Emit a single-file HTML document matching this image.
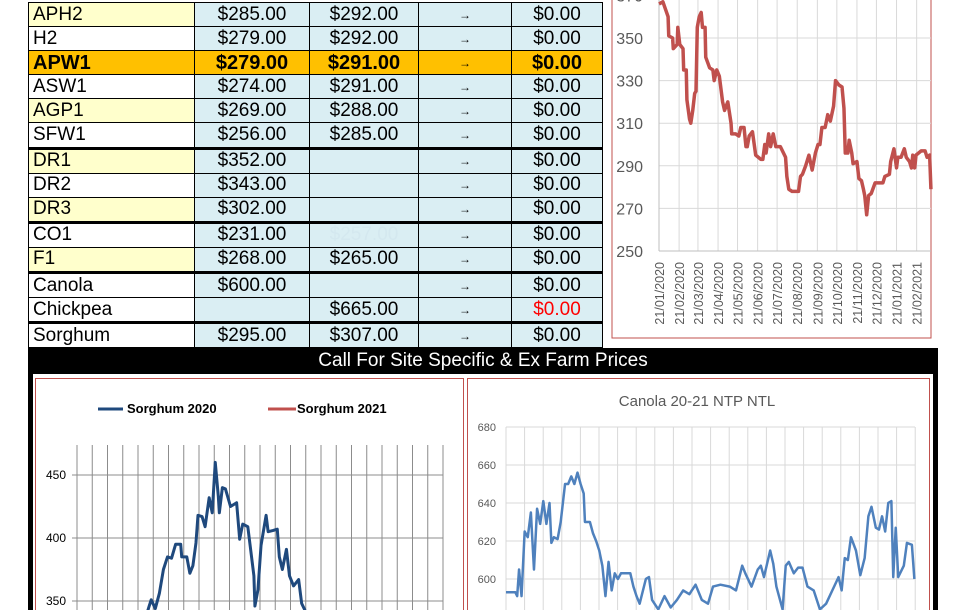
<!DOCTYPE html>
<html><head><meta charset="utf-8"><style>
body{margin:0;width:974px;height:610px;overflow:hidden;background:#fff;position:relative;font-family:"Liberation Sans",Arial,sans-serif}
#tbl{position:absolute;left:28px;top:2px;border-collapse:collapse;table-layout:fixed}
#tbl td{border:1.5px solid #000;height:23.1px;padding:0;font-size:19px;line-height:20px;background:#DAEEF3;text-align:center;white-space:nowrap;overflow:hidden}
#tbl td.n{text-align:left;padding-left:4px;background:#fff}
#tbl td.y{background:#FFFFCC}
#tbl td.a{font-size:12px}
#tbl tr.o td{background:#FFC000;font-weight:bold;font-size:20px}
#tbl tr.t td{border-bottom:3px solid #000}
.banner{position:absolute;left:28px;top:348px;width:910px;height:26px;background:#000;color:#fff;font-size:19px;text-align:center;line-height:26px}
svg{position:absolute;left:0;top:0}
</style></head><body>
<table id="tbl">
<colgroup><col style="width:166px"><col style="width:115px"><col style="width:109px"><col style="width:93px"><col style="width:91px"></colgroup>
<tr><td class="n y">APH2</td><td>$285.00</td><td>$292.00</td><td class="a">→</td><td>$0.00</td></tr>
<tr><td class="n">H2</td><td>$279.00</td><td>$292.00</td><td class="a">→</td><td>$0.00</td></tr>
<tr class="o"><td class="n" style="background:#FFC000">APW1</td><td>$279.00</td><td>$291.00</td><td class="a" style="font-size:12px;font-weight:normal">→</td><td>$0.00</td></tr>
<tr><td class="n">ASW1</td><td>$274.00</td><td>$291.00</td><td class="a">→</td><td>$0.00</td></tr>
<tr><td class="n y">AGP1</td><td>$269.00</td><td>$288.00</td><td class="a">→</td><td>$0.00</td></tr>
<tr class="t"><td class="n">SFW1</td><td>$256.00</td><td>$285.00</td><td class="a">→</td><td>$0.00</td></tr>
<tr><td class="n y">DR1</td><td>$352.00</td><td></td><td class="a">→</td><td>$0.00</td></tr>
<tr><td class="n">DR2</td><td>$343.00</td><td></td><td class="a">→</td><td>$0.00</td></tr>
<tr class="t"><td class="n y">DR3</td><td>$302.00</td><td></td><td class="a">→</td><td>$0.00</td></tr>
<tr><td class="n">CO1</td><td>$231.00</td><td style="color:#d4e8ef">$257.00</td><td class="a">→</td><td>$0.00</td></tr>
<tr class="t"><td class="n y">F1</td><td>$268.00</td><td>$265.00</td><td class="a">→</td><td>$0.00</td></tr>
<tr><td class="n">Canola</td><td>$600.00</td><td></td><td class="a">→</td><td>$0.00</td></tr>
<tr class="t"><td class="n">Chickpea</td><td></td><td>$665.00</td><td class="a">→</td><td style="color:#f00">$0.00</td></tr>
<tr><td class="n">Sorghum</td><td>$295.00</td><td>$307.00</td><td class="a">→</td><td>$0.00</td></tr>
</table>
<div class="banner">Call For Site Specific &amp; Ex Farm Prices</div>
<div style="position:absolute;left:28px;top:370px;width:5px;height:240px;background:#000"></div>
<div style="position:absolute;left:933px;top:370px;width:5px;height:240px;background:#000"></div>
<svg id="s" width="974" height="610"></svg>
<script>
// APW1 chart data
const apwDays=[0,6,14,15,21,22,28,29,32,37,38,42,43,47,49,52,55,57,59,62,65,67,71,72,78,83,85,89,93,98,101,106,111,112,118,123,126,131,134,136,139,144,149,157,160,163,165,169,172,176,180,187,195,197,200,205,215,218,221,226,231,236,241,245,248,251,256,260,264,269,272,277,282,285,287,291,293,297,299,305,308,312,315,317,320,323,327,333,345,348,355,357,362,366,368,373,378,381,386,389,391,394,396,400,404,410,413,417,419];
const apwVals=[366,367,360,351,350,345,347,355,347,345,335,335,321,312,310,316,324,325,355,360,362,355,355,341,336,335,330,335,332,320,316,320,310,305,305,304,308,308,299,299,304,306,295,293,293,300,296,305,299,305,299,299,294,285,279,278,278,285,286,290,295,288,296,300,300,308,308,314,311,318,330,328,327,317,296,296,302,296,291,292,284,283,279,276,267,276,277,282,282,285,286,292,298,289,294,294,298,294,292,289,295,289,295,296,297,297,294,295,279];
const apwTicks=["21/01/2020","21/02/2020","21/03/2020","21/04/2020","21/05/2020","21/06/2020","21/07/2020","21/08/2020","21/09/2020","21/10/2020","21/11/2020","21/12/2020","21/01/2021","21/02/2021"];
const apwTickDays=[0,31,60,91,121,152,182,213,244,274,305,335,366,397];
const apwY=[250,270,290,310,330,350,370];
// Sorghum chart data
const sorDays=[65,71,73,77,81,85,89,93,97,102,103,108,111,114,117,119,123,126,130,133,136,139,140,143,146,151,157,160,163,168,170,174,175,178,181,186,188,193,197,199,202,206,209,213,218,221,224,230];
const sor2020=[330,346,351,344,356,375,385,384,395,395,385,385,372,378,396,418,417,409,432,420,460,433,420,440,439,425,428,399,411,409,396,370,346,359,394,418,405,406,407,385,375,391,370,362,367,348,343,325];
const sorY=[350,400,450];
// Canola chart data
const canDays=[0,7.5,9,10.5,12.5,15,17.5,20,22.5,25,27.5,30,32.5,35,36.5,38.5,41.5,44,47.5,50,52.5,55,57.5,60,62.5,63.5,67.5,70,72.5,75,77.5,80,82.5,85,87.5,90,92.5,95,100,102.5,105,107.5,112.5,115,117.5,122.5,127.5,132.5,137.5,142.5,147.5,152.5,157.5,162.5,166.5,172.5,180,185,190,192.5,197.5,202.5,205,207.5,212.5,215,217.5,222.5,225,227.5,231.5,235,238.5,242.5,247.5,252.5,257.5,262.5,267.5,270,272.5,275,277.5,281.5,285,288.5,291.5,294,297.5,300,302.5,305,307.5,310,311.5,313.5,315.5,320,322.5,326.5,328.5];
const canVals=[593,593,591,605,591,625,622,635,605,637,629,641,629,640,619,622,621,630,650,650,654,650,656,650,645,630,630,624,620,615,607,591,609,594,603,600,603,603,603,596,591,587,600,601,589,584,591,585,589,594,592,597,589,587,596,597,596,594,607,603,596,605,607,601,615,608,596,584,607,609,603,606,606,596,594,584,587,594,601,594,611,610,622,615,602,611,633,638,627,626,633,625,640,641,601,627,601,607,619,618,600];
const canY=[600,620,640,660,680];

const NS="http://www.w3.org/2000/svg";const S=document.getElementById('s');
function mk(t,a){const e=document.createElementNS(NS,t);for(const k in a)e.setAttribute(k,a[k]);S.appendChild(e);return e;}

// ---- APW1 chart ----
const ax=d=>659+d*0.649, ay=v=>251-(v-250)*2.13;
let e=mk('rect',{x:612,y:-5,width:319,height:343,fill:'#fff',stroke:'#C0504D','stroke-width':1});


apwY.forEach(v=>{
 e=mk('line',{x1:659,x2:931,y1:ay(v),y2:ay(v),stroke:'#d9d9d9'});
 
 
 e=mk('text',{x:643,y:ay(v)+6,'text-anchor':'end','font-size':16,fill:'#595959','font-family':'Liberation Sans'});e.textContent=v;
 
 
});
apwTickDays.forEach((d,i)=>{
 e=mk('line',{x1:ax(d),x2:ax(d),y1:0,y2:251,stroke:'#d9d9d9'});
 
 
 e=mk('text',{x:0,y:0,transform:`translate(${ax(d)+5},262) rotate(-90)`,'text-anchor':'end','font-size':12.5,fill:'#595959','font-family':'Liberation Sans'});e.textContent=apwTicks[i];
 
 
});
e=mk('line',{x1:659,x2:931,y1:251,y2:251,stroke:'#bfbfbf'});


e=mk('line',{x1:659,x2:659,y1:0,y2:251,stroke:'#bfbfbf'});


e=mk('polyline',{points:apwDays.map((d,i)=>ax(d)+','+ay(apwVals[i])).join(' '),fill:'none',stroke:'#C0504D','stroke-width':3.5,'stroke-linejoin':'round'});



// ---- Sorghum chart ----
const sx=d=>77+d*366/360, sy=v=>475+(450-v)*1.26;
e=mk('rect',{x:35.5,y:378.5,width:428,height:240,fill:'#fff',stroke:'#C0504D'});


for(let i=0;i<=24;i++){
 e=mk('line',{x1:77+i*15.25,x2:77+i*15.25,y1:445,y2:610,stroke:'#8c8c8c'});
 
 
}
sorY.forEach(v=>{
 e=mk('line',{x1:72,x2:443,y1:sy(v),y2:sy(v),stroke:'#8c8c8c'});
 
 
 e=mk('text',{x:66,y:sy(v)+4,'text-anchor':'end','font-size':12,fill:'#000','font-family':'Liberation Sans'});e.textContent=v;
 
 
});
e=mk('line',{x1:98,x2:123,y1:409,y2:409,stroke:'#1F497D','stroke-width':3});


e=mk('text',{x:127,y:413,'font-size':13,'font-weight':'bold','font-family':'Liberation Sans'});e.textContent='Sorghum 2020';


e=mk('line',{x1:268,x2:296,y1:409,y2:409,stroke:'#C0504D','stroke-width':3});


e=mk('text',{x:297,y:413,'font-size':13,'font-weight':'bold','font-family':'Liberation Sans'});e.textContent='Sorghum 2021';


e=mk('polyline',{points:sorDays.map((d,i)=>sx(d)+','+sy(sor2020[i])).join(' '),fill:'none',stroke:'#1F497D','stroke-width':3,'stroke-linejoin':'round'});



// ---- Canola chart ----
const cx=d=>506+d*409/329, cy=v=>579-(v-600)*1.9;
e=mk('rect',{x:467.5,y:378.5,width:462,height:240,fill:'#fff',stroke:'#C0504D'});


e=mk('text',{x:697,y:406,'text-anchor':'middle','font-size':15,fill:'#595959','font-family':'Liberation Sans'});e.textContent='Canola 20-21 NTP NTL';


for(let i=0;i<=22;i++){
 e=mk('line',{x1:506+i*18.6,x2:506+i*18.6,y1:427,y2:610,stroke:'#d9d9d9'});
 
 
}
canY.forEach(v=>{
 e=mk('line',{x1:506,x2:915,y1:cy(v),y2:cy(v),stroke:'#d9d9d9'});
 
 
 e=mk('text',{x:496,y:cy(v)+4,'text-anchor':'end','font-size':11,fill:'#595959','font-family':'Liberation Sans'});e.textContent=v;
 
 
});
e=mk('polyline',{points:canDays.map((d,i)=>cx(d)+','+cy(canVals[i])).join(' '),fill:'none',stroke:'#4F81BD','stroke-width':2.5,'stroke-linejoin':'round'});


</script>
</body></html>
